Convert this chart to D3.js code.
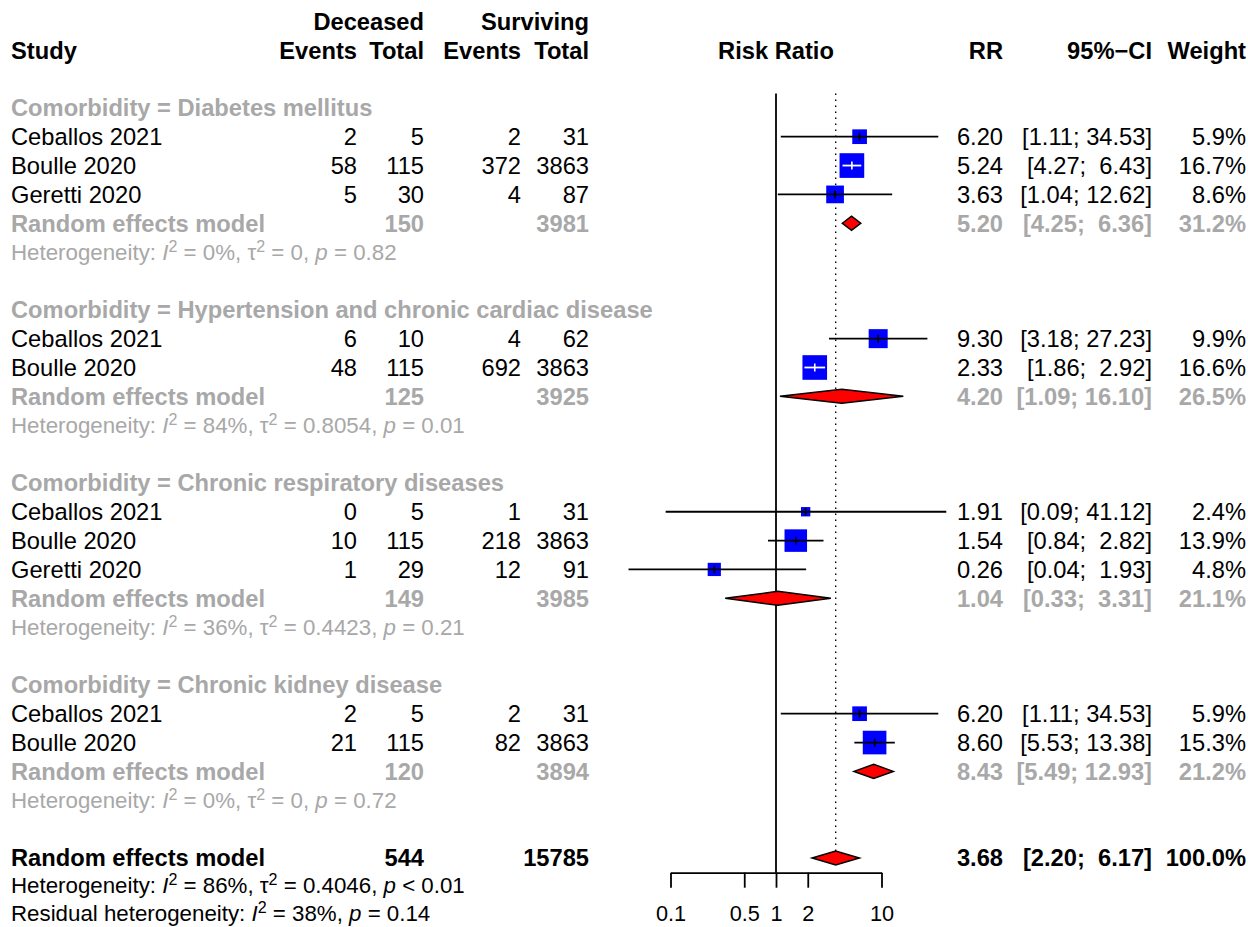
<!DOCTYPE html>
<html>
<head>
<meta charset="utf-8">
<script src="https://cdn.jsdelivr.net/npm/d3@7"></script>
<style>
  body { margin: 0; background: #fff; }
  text { font-family: "Liberation Sans", Arial, sans-serif; white-space: pre; }
</style>
</head>
<body>
<svg id="chart" width="1248" height="927"></svg>
<script>
// ---- data ----
const subgroups = ["Diabetes mellitus", "Hypertension and chronic cardiac disease",
                   "Chronic respiratory diseases", "Chronic kidney disease"];
const studyGroup = [0, 0, 0, 1, 1, 2, 2, 2, 3, 3];
const studyNames = ["Ceballos 2021", "Boulle 2020", "Geretti 2020",
                    "Ceballos 2021", "Boulle 2020",
                    "Ceballos 2021", "Boulle 2020", "Geretti 2020",
                    "Ceballos 2021", "Boulle 2020"];
const deceasedEvents  = [2, 58, 5, 6, 48, 0, 10, 1, 2, 21];
const deceasedTotal   = [5, 115, 30, 10, 115, 5, 115, 29, 5, 115];
const survivingEvents = [2, 372, 4, 4, 692, 1, 218, 12, 2, 82];
const survivingTotal  = [31, 3863, 87, 62, 3863, 31, 3863, 91, 31, 3863];
const studyRR     = [6.20, 5.24, 3.63, 9.30, 2.33, 1.91, 1.54, 0.26, 6.20, 8.60];
const studyLower  = [1.11, 4.27, 1.04, 3.18, 1.86, 0.09, 0.84, 0.04, 1.11, 5.53];
const studyUpper  = [34.53, 6.43, 12.62, 27.23, 2.92, 41.12, 2.82, 1.93, 34.53, 13.38];
const studyWeight = [5.9, 16.7, 8.6, 9.9, 16.6, 2.4, 13.9, 4.8, 5.9, 15.3];

const pooledDeceased  = [150, 125, 149, 120];
const pooledSurviving = [3981, 3925, 3985, 3894];
const pooledRR     = [5.20, 4.20, 1.04, 8.43];
const pooledLower  = [4.25, 1.09, 0.33, 5.49];
const pooledUpper  = [6.36, 16.10, 3.31, 12.93];
const pooledWeight = [31.2, 26.5, 21.1, 21.2];
const hetI2   = ["0%", "84%", "36%", "0%"];
const hetTau2 = ["0", "0.8054", "0.4423", "0"];
const hetP    = ["= 0.82", "= 0.01", "= 0.21", "= 0.72"];

const overall = { deceased: 544, surviving: 15785, rr: 3.68, lower: 2.20, upper: 6.17, weight: 100.0,
                  i2: "86%", tau2: "0.4046", p: "< 0.01" };
const residual = { i2: "38%", p: "= 0.14" };

const tickValues = [0.1, 0.5, 1, 2, 10];
const tickLabels = ["0.1", "0.5", "1", "2", "10"];

// ---- layout ----
const svg = d3.select("#chart");
const fs = 23.7, fsHet = 22.3, fsTick = 21.7;
const grey = "#a8a8a8";
const rowH = 28.85, row0 = 50.15;
const rowY = i => row0 + i * rowH;

const colX = { study: 11, dEv: 357, dTot: 424, sEv: 521, sTot: 589, rr: 1003, ci: 1152, w: 1246 };

const x = d3.scaleLog().domain([0.1, 10]).range([670.5, 881.5]);
const axisY = 872.7, topY = rowY(1.5);

function txt(xp, yc, str, opt = {}) {
  const size = opt.size || fs;
  return svg.append("text")
    .attr("x", xp).attr("y", yc + 0.355 * size)
    .attr("text-anchor", opt.anchor || "start")
    .attr("font-size", size)
    .attr("font-weight", opt.bold ? "bold" : "normal")
    .attr("fill", opt.color || "#000")
    .text(str);
}

const f2 = v => v.toFixed(2);
const ciText = (lo, hi) => "[" + f2(lo) + "; " + f2(hi).padStart(5, " ") + "]";
const wText = w => w.toFixed(1) + "%";

// heterogeneity line with italic symbols and superscripts
function hetLine(yc, parts, color) {
  const t = svg.append("text").attr("x", colX.study).attr("y", yc + 0.355 * fsHet)
    .attr("font-size", fsHet).attr("fill", color);
  const rise = 0.38 * fsHet;
  parts.forEach(p => {
    const s = t.append("tspan").text(p.t);
    if (p.it) s.attr("font-style", "italic");
    if (p.sup) s.attr("font-size", fsHet * 0.72).attr("dy", -rise);
    if (p.down) s.attr("dy", rise);
  });
}
function hetParts(i2, tau2, p) {
  const a = [{ t: "Heterogeneity: " }, { t: "I", it: true }, { t: "2", sup: true },
             { t: " = " + i2 + ", ", down: true }];
  if (tau2 !== null) {
    a.push({ t: "\u03C4" }, { t: "2", sup: true }, { t: " = " + tau2 + ", ", down: true });
  }
  a.push({ t: "p", it: true }, { t: " " + p });
  return a;
}

// ---- headers ----
txt(colX.dTot, rowY(-1), "Deceased", { anchor: "end", bold: true });
txt(colX.sTot, rowY(-1), "Surviving", { anchor: "end", bold: true });
txt(colX.study, rowY(0), "Study", { bold: true });
txt(colX.dEv, rowY(0), "Events", { anchor: "end", bold: true });
txt(colX.dTot, rowY(0), "Total", { anchor: "end", bold: true });
txt(colX.sEv, rowY(0), "Events", { anchor: "end", bold: true });
txt(colX.sTot, rowY(0), "Total", { anchor: "end", bold: true });
txt(x(1), rowY(0), "Risk Ratio", { anchor: "middle", bold: true });
txt(colX.rr, rowY(0), "RR", { anchor: "end", bold: true });
txt(colX.ci, rowY(0), "95%\u2212CI", { anchor: "end", bold: true });
txt(colX.w, rowY(0), "Weight", { anchor: "end", bold: true });

// ---- reference lines ----
const gLines = svg.append("g");
gLines.append("line").attr("x1", x(1)).attr("x2", x(1)).attr("y1", topY).attr("y2", axisY)
  .attr("stroke", "#000").attr("stroke-width", 1.8);
gLines.append("line").attr("x1", x(overall.rr)).attr("x2", x(overall.rr))
  .attr("y1", topY).attr("y2", rowY(28) - 7)
  .attr("stroke", "#000").attr("stroke-width", 1.4).attr("stroke-dasharray", "1.5,4.5");

const gMarks = svg.append("g");
const sq = w => 6.04 * Math.sqrt(w);

function drawStudy(i, yc) {
  const cx = x(studyRR[i]), s = sq(studyWeight[i]);
  const xl = x(studyLower[i]), xu = x(studyUpper[i]);
  const inside = xl >= cx - s / 2 && xu <= cx + s / 2;
  const lc = inside ? "#fff" : "#000";
  gMarks.append("rect").attr("x", cx - s / 2).attr("y", yc - s / 2)
    .attr("width", s).attr("height", s).attr("fill", "#0000ff");
  gMarks.append("line").attr("x1", xl).attr("x2", xu).attr("y1", yc).attr("y2", yc)
    .attr("stroke", lc).attr("stroke-width", 1.8);
  gMarks.append("line").attr("x1", cx).attr("x2", cx).attr("y1", yc - 4).attr("y2", yc + 4)
    .attr("stroke", lc).attr("stroke-width", 1.6);
}
function drawDiamond(est, lo, hi, yc) {
  const h = 7;
  gMarks.append("path")
    .attr("d", `M${x(lo)},${yc}L${x(est)},${yc - h}L${x(hi)},${yc}L${x(est)},${yc + h}Z`)
    .attr("fill", "#ff0000").attr("stroke", "#000").attr("stroke-width", 1.5);
}

// ---- rows ----
let r = 2;
subgroups.forEach((g, gi) => {
  txt(colX.study, rowY(r), "Comorbidity = " + g, { bold: true, color: grey });
  r++;
  studyNames.forEach((name, i) => {
    if (studyGroup[i] !== gi) return;
    const yc = rowY(r);
    txt(colX.study, yc, name);
    txt(colX.dEv, yc, String(deceasedEvents[i]), { anchor: "end" });
    txt(colX.dTot, yc, String(deceasedTotal[i]), { anchor: "end" });
    txt(colX.sEv, yc, String(survivingEvents[i]), { anchor: "end" });
    txt(colX.sTot, yc, String(survivingTotal[i]), { anchor: "end" });
    txt(colX.rr, yc, f2(studyRR[i]), { anchor: "end" });
    txt(colX.ci, yc, ciText(studyLower[i], studyUpper[i]), { anchor: "end" });
    txt(colX.w, yc, wText(studyWeight[i]), { anchor: "end" });
    drawStudy(i, yc);
    r++;
  });
  const yp = rowY(r);
  txt(colX.study, yp, "Random effects model", { bold: true, color: grey });
  txt(colX.dTot, yp, String(pooledDeceased[gi]), { anchor: "end", bold: true, color: grey });
  txt(colX.sTot, yp, String(pooledSurviving[gi]), { anchor: "end", bold: true, color: grey });
  txt(colX.rr, yp, f2(pooledRR[gi]), { anchor: "end", bold: true, color: grey });
  txt(colX.ci, yp, ciText(pooledLower[gi], pooledUpper[gi]), { anchor: "end", bold: true, color: grey });
  txt(colX.w, yp, wText(pooledWeight[gi]), { anchor: "end", bold: true, color: grey });
  drawDiamond(pooledRR[gi], pooledLower[gi], pooledUpper[gi], yp);
  r++;
  hetLine(rowY(r), hetParts(hetI2[gi], hetTau2[gi], hetP[gi]), grey);
  r += 2;
});

// overall
const yo = rowY(r);
txt(colX.study, yo, "Random effects model", { bold: true });
txt(colX.dTot, yo, String(overall.deceased), { anchor: "end", bold: true });
txt(colX.sTot, yo, String(overall.surviving), { anchor: "end", bold: true });
txt(colX.rr, yo, f2(overall.rr), { anchor: "end", bold: true });
txt(colX.ci, yo, ciText(overall.lower, overall.upper), { anchor: "end", bold: true });
txt(colX.w, yo, wText(overall.weight), { anchor: "end", bold: true });
drawDiamond(overall.rr, overall.lower, overall.upper, yo);
// the two closing lines sit right at the bottom edge; keep descenders inside the canvas
hetLine(Math.min(rowY(r + 1), 885.5), hetParts(overall.i2, overall.tau2, overall.p), "#000");
const resParts = hetParts(residual.i2, null, residual.p);
resParts[0].t = "Residual heterogeneity: ";
hetLine(Math.min(rowY(r + 2), 913.5), resParts, "#000");

// ---- axis ----
const axis = d3.axisBottom(x).tickValues(tickValues)
  .tickFormat((d, i) => tickLabels[i]).tickSize(15).tickSizeOuter(0);
const gAxis = svg.append("g").attr("transform", `translate(0,${axisY})`).call(axis);
gAxis.select(".domain").attr("stroke", "#000").attr("stroke-width", 1.8);
gAxis.selectAll(".tick line").attr("stroke", "#000").attr("stroke-width", 1.8);
gAxis.selectAll(".tick text")
  .attr("y", 921.5 - axisY).attr("dy", null)
  .attr("font-size", fsTick).attr("font-family", "Liberation Sans, Arial, sans-serif")
  .attr("fill", "#000");
</script>
</body>
</html>
